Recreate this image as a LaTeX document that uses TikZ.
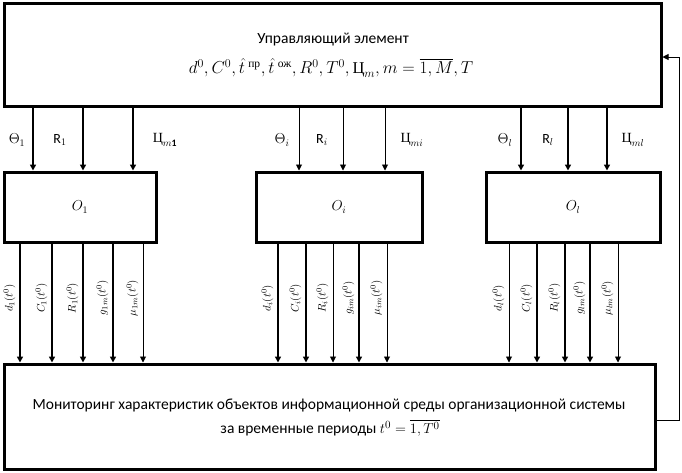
\documentclass[tikz,border=0pt]{standalone}
\usepackage{amsmath}
\usepackage{fontspec}
\setmainfont{Carlito}
\newfontfamily\cyrs{Liberation Serif}
\usetikzlibrary{arrows.meta}
\begin{document}
\begin{tikzpicture}[x=1pt,y=-1pt,
  box/.style={draw, line width=3pt, inner sep=0pt},
  thk/.style={line width=1.8pt, -{Triangle[length=6pt,width=6pt]}},
  thn/.style={line width=0.9pt, -{Triangle[length=6pt,width=6pt]}},
  txt/.style={font=\fontsize{15.5}{18}\selectfont, inner sep=0pt},
  sig/.style={font=\fontsize{14}{16}\selectfont, inner sep=0pt},
  vlab/.style={rotate=90, font=\fontsize{11}{13}\selectfont, inner sep=0pt}]
\useasboundingbox (0,0) rectangle (682,472);
% boxes
\node[box, minimum width=657pt, minimum height=103pt] (top) at (332.5,54.5) {};
\node[box, minimum width=152pt, minimum height=70pt] (o1) at (80,207) {};
\node[box, minimum width=166pt, minimum height=70pt] (oi) at (339,207) {};
\node[box, minimum width=174pt, minimum height=70pt] (ol) at (573,207) {};
\node[box, minimum width=651pt, minimum height=105pt] (bot) at (329.5,416.5) {};
% texts
\node[txt] (t1) at (333,40) {Управляющий элемент};
\node[txt, font=\fontsize{16.5}{19}\selectfont] (t2) at (331,68) {$d^0, C^0, \hat{t}^{\;\text{\cyrs пр}}, \hat{t}^{\;\text{\cyrs ож}}, R^0, T^0, \text{\cyrs Ц}_m, m=\overline{1,M}, T$};
\node[txt] (b1) at (329,405) {Мониторинг характеристик объектов информационной среды организационной системы};
\node[txt] (b2) at (330,428) {за временные периоды $t^0=\overline{1,T^0}$};
\node[sig] (n1) at (o1) {$O_1$};
\node[sig] (ni) at (oi) {$O_i$};
\node[sig] (nl) at (ol) {$O_l$};
% top arrows
\foreach \n/\x in {a1/33,a2/83,a3/133,a4/299,a5/343,a6/385,a7/521,a8/568,a9/607}{
  \coordinate (\n) at (\x,0);}
\draw[thk] (top.south -| a1) -- (o1.north -| a1);
\draw[thk] (top.south -| a2) -- (o1.north -| a2);
\draw[thk] (top.south -| a3) -- (o1.north -| a3);
\draw[thn] (top.south -| a4) -- (oi.north -| a4);
\draw[thn] (top.south -| a5) -- (oi.north -| a5);
\draw[thn] (top.south -| a6) -- (oi.north -| a6);
\draw[thk] (top.south -| a7) -- (ol.north -| a7);
\draw[thk] (top.south -| a8) -- (ol.north -| a8);
\draw[thk] (top.south -| a9) -- (ol.north -| a9);
\node[sig] (s1) at (17,140) {$\Theta_1$};
\node[sig] (s2) at (60,140) {$\mathrm{R}_1$};
\node[sig] (s3) at (165,140) {$\text{\cyrs Ц}_{m\mathbf{1}}$};
\node[sig] (s4) at (282,140) {$\Theta_i$};
\node[sig] (s5) at (322,140) {$\mathrm{R}_i$};
\node[sig] (s6) at (412,140) {$\text{\cyrs Ц}_{mi}$};
\node[sig] (s7) at (505,140) {$\Theta_l$};
\node[sig] (s8) at (548,140) {$\mathrm{R}_l$};
\node[sig] (s9) at (633,140) {$\text{\cyrs Ц}_{ml}$};
% bottom arrows
\foreach \n/\x/\st/\lab/\src in {
  c1/20/thk/{d_1(t^0)}/o1, c2/52/thk/{C_1(t^0)}/o1, c3/83/thk/{R_1(t^0)}/o1, c4/113/thk/{g_{1m}(t^0)}/o1, c5/143/thn/{\mu_{1m}(t^0)}/o1,
  c6/278/thk/{d_i(t^0)}/oi, c7/306/thk/{C_i(t^0)}/oi, c8/333/thn/{R_i(t^0)}/oi, c9/359/thk/{g_{im}(t^0)}/oi, c10/387/thn/{\mu_{im}(t^0)}/oi,
  c11/509/thn/{d_l(t^0)}/ol, c12/537/thk/{C_l(t^0)}/ol, c13/565/thk/{R_l(t^0)}/ol, c14/590/thk/{g_{lm}(t^0)}/ol, c15/618/thn/{\mu_{lm}(t^0)}/ol}{
  \coordinate (\n) at (\x,298);
  \draw[\st] (\src.south -| \n) -- (bot.north -| \n);
  \node[vlab, anchor=center] (l\n) at ([xshift=-10.5pt]\n) {$\lab$};
}
% feedback
\coordinate (f1) at (679,420);
\coordinate (f2) at (679,57);
\draw[thn] (bot.east |- f1) -- (f1) -- (f2) -- (top.east |- f2);
\end{tikzpicture}
\end{document}
